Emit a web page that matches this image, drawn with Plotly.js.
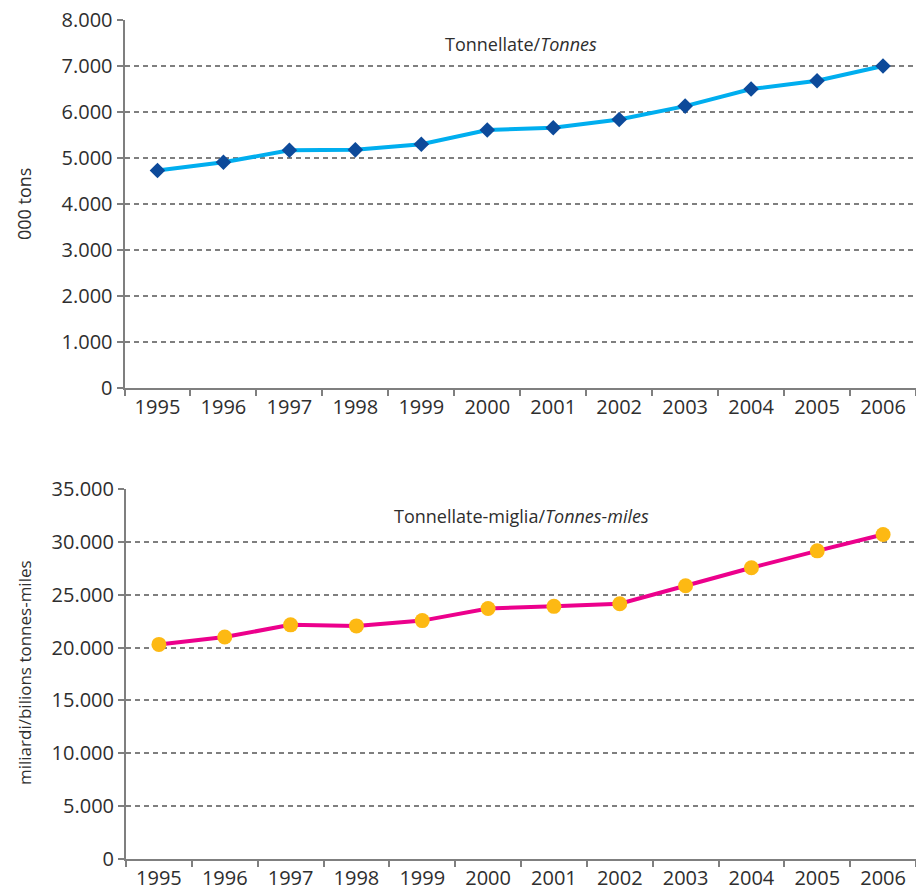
<!DOCTYPE html>
<html>
<head>
<meta charset="utf-8">
<script src="https://cdn.plot.ly/plotly-3.0.1.min.js"></script>
<style>html,body{margin:0;padding:0;background:#fff;}#chart{width:916px;height:894px;}</style>
</head>
<body>
<div id="chart"></div>
<script>
// Data
const years = ["1995","1996","1997","1998","1999","2000","2001","2002","2003","2004","2005","2006"];
const tonnes = [4730, 4910, 5170, 5180, 5300, 5610, 5660, 5840, 6130, 6500, 6680, 7000];
const tonnesMiles = [20300, 21000, 22150, 22050, 22550, 23700, 23900, 24150, 25850, 27550, 29150, 30700];

const topTitle = "Tonnellate/<i>Tonnes</i>";
const bottomTitle = "Tonnellate-miglia/<i>Tonnes-miles</i>";
const topYTitle = "000 tons";
const bottomYTitle = "miliardi/bilions tonnes-miles";

const W = 916, H = 894;
const FONT = "Open Sans, Noto Sans, sans-serif";
const TXT = "#2e2e2e";
const AX = "#7f7f7f";

const traces = [
  {
    x: years, y: tonnes, xaxis: "x", yaxis: "y",
    type: "scatter", mode: "lines+markers",
    line: {color: "#00AEEF", width: 4},
    marker: {symbol: "diamond", color: "#0D4A9A", size: 12},
    hoverinfo: "skip"
  },
  {
    x: years, y: tonnesMiles, xaxis: "x2", yaxis: "y2",
    type: "scatter", mode: "lines+markers",
    line: {color: "#EC008C", width: 4},
    marker: {symbol: "circle", color: "#FDB913", size: 15},
    hoverinfo: "skip"
  }
];

function xax(left, anchor) {
  return {
    domain: [left / W, 1],
    anchor: anchor,
    type: "category",
    range: [-0.5, 11.5],
    tickson: "boundaries",
    ticks: "outside", ticklen: 6, tickwidth: 2, tickcolor: AX,
    showline: true, linecolor: AX, linewidth: 2,
    showgrid: false, zeroline: false,
    tickfont: {family: FONT, size: 20, color: TXT},
    fixedrange: true
  };
}
function yax(top, bottom, maxv, dt, anchor) {
  return {
    domain: [1 - bottom / H, 1 - top / H],
    anchor: anchor,
    range: [0, maxv],
    dtick: dt, tick0: 0,
    tickformat: ",.0f",
    ticks: "outside", ticklen: 6, tickwidth: 2, tickcolor: AX,
    showline: true, linecolor: AX, linewidth: 2,
    showgrid: true, gridcolor: AX, gridwidth: 2, griddash: "5px,4px",
    zeroline: false,
    tickfont: {family: FONT, size: 20, color: TXT},
    fixedrange: true
  };
}

const layout = {
  width: W, height: H,
  margin: {l: 0, r: 0, t: 0, b: 0},
  paper_bgcolor: "#ffffff", plot_bgcolor: "#ffffff",
  separators: ",.",
  showlegend: false,
  xaxis: xax(124.5, "y"),
  yaxis: yax(20, 388.3, 8000, 1000, "x"),
  xaxis2: xax(126, "y2"),
  yaxis2: yax(489, 859, 35000, 5000, "x2"),
  annotations: [
    {text: topTitle, xref: "paper", yref: "paper", x: 521 / W, y: 1 - 44 / H,
     showarrow: false, xanchor: "center", yanchor: "middle",
     font: {family: FONT, size: 18, color: TXT}},
    {text: bottomTitle, xref: "paper", yref: "paper", x: 521 / W, y: 1 - 516 / H,
     showarrow: false, xanchor: "center", yanchor: "middle",
     font: {family: FONT, size: 18, color: TXT}},
    {text: topYTitle, xref: "paper", yref: "paper", x: 24 / W, y: 1 - 204 / H,
     showarrow: false, textangle: -90, xanchor: "center", yanchor: "middle",
     font: {family: FONT, size: 18, color: TXT}},
    {text: bottomYTitle, xref: "paper", yref: "paper", x: 24 / W, y: 1 - 673 / H,
     showarrow: false, textangle: -90, xanchor: "center", yanchor: "middle",
     font: {family: FONT, size: 17, color: TXT}}
  ]
};

Plotly.newPlot("chart", traces, layout, {displayModeBar: false, staticPlot: true});
</script>
</body>
</html>
